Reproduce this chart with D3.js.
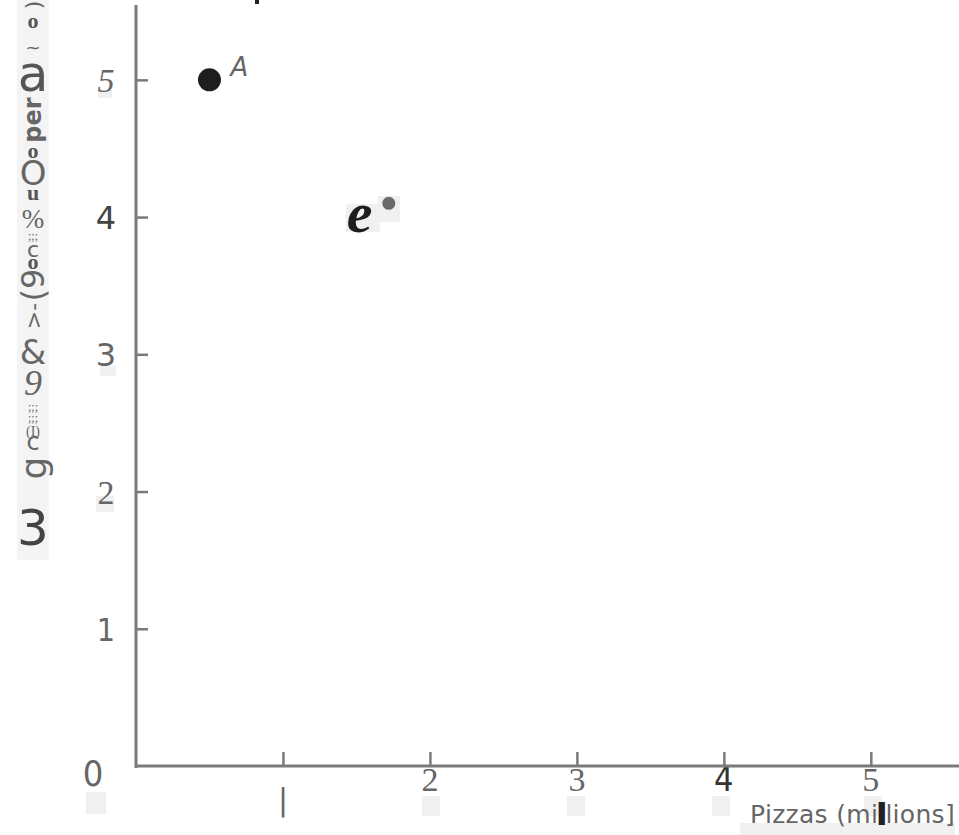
<!DOCTYPE html>
<html><head><meta charset="utf-8">
<script src="https://cdn.jsdelivr.net/npm/d3@7"></script>
<style>html,body{margin:0;padding:0;background:#fff;}svg{display:block;}</style>
</head><body>
<svg id="c" width="959" height="835"></svg>
<script>
// ---- data ----
const pointNames = ["A", "e"];
const pizzas = [0.5, 1.72];          // millions
const otherGood = [5.0, 4.1];        // y values
const xTickValues = [1, 2, 3, 4, 5];
const xTickLabels = ["1", "2", "3", "4", "5"];
const yTickValues = [0, 1, 2, 3, 4, 5];
const yTickLabels = ["0", "1", "2", "3", "4", "5"];
const xTitle = ["Pizzas (mi", "l", "lions]"];
// garbled y-axis title glyphs, bottom to top (as scanned)
const yTitleGlyphs = ["3", "g", "c", "(I)", ";;;", ";;;", "9", "&", ">-", "(9", "o", "c", ";;;", "%", "u", "O", "o", "per", "a", "~", "o", ")"];

// ---- layout ----
const svg = d3.select("#c");
const x = d3.scaleLinear().domain([0, 5.6]).range([136, 959]);
const y = d3.scaleLinear().domain([0, 5.56]).range([766, 3]);

const axisCol = "#7a7a7a";

// faint scan ghost boxes
const ghost = svg.append("g").attr("fill", "#f0f0f0");
ghost.append("rect").attr("x", 17).attr("y", 0).attr("width", 32).attr("height", 560).attr("fill", "#f4f4f4");
[[86, 792, 20, 22], [422, 796, 18, 20], [567, 796, 18, 20], [712, 796, 18, 20], [864, 796, 18, 20],
 [96, 496, 18, 16], [100, 366, 16, 10], [740, 823, 215, 12], [346, 204, 34, 28], [378, 196, 22, 26], [98, 90, 14, 8]]
  .forEach(r => ghost.append("rect").attr("x", r[0]).attr("y", r[1]).attr("width", r[2]).attr("height", r[3]));

// axes
const yAxis = d3.axisRight(y).tickValues(yTickValues.slice(1)).tickSize(12).tickFormat("");
const gy = svg.append("g").attr("transform", `translate(${x(0)},0)`).call(yAxis);
gy.select(".domain").remove();
gy.selectAll(".tick line").attr("stroke", axisCol).attr("stroke-width", 2.5);
svg.append("line").attr("x1", x(0)).attr("x2", x(0)).attr("y1", 5).attr("y2", y(0) + 2)
  .attr("stroke", axisCol).attr("stroke-width", 3);

const xAxis = d3.axisTop(x).tickValues(xTickValues).tickSize(14).tickFormat("");
const gx = svg.append("g").attr("transform", `translate(0,${y(0)})`).call(xAxis);
gx.select(".domain").remove();
gx.selectAll(".tick line").attr("stroke", axisCol).attr("stroke-width", 2.5);

// x tick labels (drawn before axis line; they touch it in the scan)
const xFonts = ["DejaVu Sans", "Liberation Serif", "Liberation Serif", "DejaVu Sans Condensed", "Liberation Serif"];
svg.append("g").selectAll("text").data(xTickValues).join("text")
  .attr("x", d => x(d))
  .attr("y", (d, i) => i === 0 ? y(0) + 44 : y(0) + 25)
  .attr("text-anchor", "middle")
  .attr("font-family", (d, i) => xFonts[i])
  .attr("font-size", (d, i) => i === 0 ? 30 : 34)
  .attr("fill", (d, i) => i === 3 ? "#333" : "#666")
  .text((d, i) => i === 0 ? "|" : xTickLabels[i]);

svg.append("line").attr("x1", x(0) - 1).attr("x2", 959).attr("y1", y(0)).attr("y2", y(0))
  .attr("stroke", axisCol).attr("stroke-width", 3);

// y tick labels (mixed fonts from scan)
const yFonts = ["DejaVu Sans Condensed", "DejaVu Sans Condensed", "Liberation Serif", "DejaVu Sans", "DejaVu Sans", "Liberation Serif"];
const yStyles = ["normal", "normal", "normal", "normal", "normal", "italic"];
svg.append("g").selectAll("text").data(yTickValues).join("text")
  .attr("x", (d, i) => i === 0 ? 93 : 106)
  .attr("y", (d, i) => y(d) + (i === 0 ? 20 : 12))
  .attr("text-anchor", "middle")
  .attr("font-family", (d, i) => yFonts[i])
  .attr("font-style", (d, i) => yStyles[i])
  .attr("font-size", (d, i) => i === 0 ? 36 : (i === 5 || i === 2 ? 34 : 32))
  .attr("fill", (d, i) => i === 4 ? "#444" : "#666")
  .text((d, i) => yTickLabels[i]);

// x title
const xt = svg.append("text").attr("x", 955).attr("y", 823).attr("text-anchor", "end")
  .attr("font-family", "DejaVu Sans").attr("font-size", 25).attr("letter-spacing", 0.3).attr("fill", "#666");
xt.append("tspan").text(xTitle[0]);
xt.append("tspan").attr("fill", "#222").attr("stroke", "#222").attr("stroke-width", 4).text(xTitle[1]);
xt.append("tspan").text(xTitle[2]);

// garbled y title glyphs (center y, size, font, colour, rotation, bold, italic)
const glyphPos = [
  {y: 528, s: 50, f: "DejaVu Sans", c: "#444", r: 0},
  {y: 468, s: 36, f: "DejaVu Sans", c: "#666", r: -90},
  {y: 442, s: 24, f: "DejaVu Sans", c: "#666", r: 0},
  {y: 431, s: 14, f: "Liberation Serif", c: "#666", r: 0},
  {y: 418, s: 12, f: "Liberation Serif", c: "#666", r: 0},
  {y: 407, s: 12, f: "Liberation Serif", c: "#666", r: 0},
  {y: 383, s: 36, f: "Liberation Serif", c: "#666", r: 0, it: true},
  {y: 352, s: 34, f: "DejaVu Sans", c: "#666", r: 0},
  {y: 316, s: 22, f: "DejaVu Sans", c: "#666", r: -90},
  {y: 285, s: 32, f: "DejaVu Sans", c: "#666", r: -90},
  {y: 261, s: 22, f: "Liberation Serif", c: "#555", r: 0, b: true},
  {y: 249, s: 22, f: "DejaVu Sans", c: "#666", r: 0},
  {y: 236, s: 12, f: "Liberation Serif", c: "#666", r: 0},
  {y: 219, s: 27, f: "Liberation Serif", c: "#666", r: 0},
  {y: 192, s: 22, f: "Liberation Serif", c: "#555", r: 0, b: true},
  {y: 173, s: 34, f: "DejaVu Sans", c: "#666", r: 0},
  {y: 150, s: 22, f: "Liberation Serif", c: "#555", r: 0, b: true},
  {y: 120, s: 24, f: "DejaVu Sans", c: "#666", r: -90, b: true},
  {y: 74, s: 50, f: "DejaVu Sans", c: "#555", r: 0},
  {y: 47, s: 18, f: "DejaVu Sans", c: "#666", r: 0},
  {y: 20, s: 22, f: "Liberation Serif", c: "#555", r: 0, b: true},
  {y: 5, s: 22, f: "DejaVu Sans", c: "#666", r: -90}
];
svg.append("g").selectAll("text").data(yTitleGlyphs).join("text")
  .attr("text-anchor", "middle")
  .attr("dominant-baseline", "central")
  .attr("transform", (d, i) => `translate(33,${glyphPos[i].y}) rotate(${glyphPos[i].r})`)
  .attr("font-family", (d, i) => glyphPos[i].f)
  .attr("font-size", (d, i) => glyphPos[i].s)
  .attr("font-weight", (d, i) => glyphPos[i].b ? "bold" : "normal")
  .attr("font-style", (d, i) => glyphPos[i].it ? "italic" : "normal")
  .attr("fill", (d, i) => glyphPos[i].c)
  .text(d => d);

// cut-off title fragment at top
svg.append("rect").attr("x", 255).attr("y", 0).attr("width", 4).attr("height", 4).attr("fill", "#222");

// points
const pts = pizzas.map((v, i) => ({name: pointNames[i], x: v, y: otherGood[i]}));
svg.append("g").selectAll("circle").data(pts).join("circle")
  .attr("cx", d => x(d.x)).attr("cy", d => y(d.y))
  .attr("r", (d, i) => i === 0 ? 11.5 : 6.5)
  .attr("fill", (d, i) => i === 0 ? "#1e1e1e" : "#6a6a6a");

// point labels
svg.append("text").attr("x", x(pizzas[0]) + 21).attr("y", y(otherGood[0]) - 4)
  .attr("font-family", "DejaVu Sans").attr("font-style", "italic").attr("font-size", 26)
  .attr("fill", "#666").text(pointNames[0]);
svg.append("text").attr("x", x(pizzas[1]) - 42).attr("y", y(otherGood[1]) + 29)
  .attr("font-family", "Liberation Serif").attr("font-style", "italic").attr("font-weight", "bold")
  .attr("font-size", 58).attr("fill", "#1e1e1e").text(pointNames[1]);
</script>
</body></html>
